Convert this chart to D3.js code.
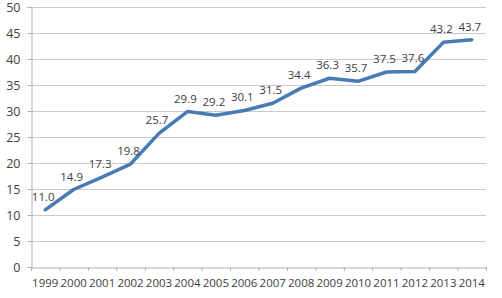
<!DOCTYPE html>
<html><head><meta charset="utf-8">
<script src="https://d3js.org/d3.v7.min.js"></script>
<style>body{margin:0;background:#fff}svg{display:block}</style>
</head><body>
<script>
const years = ["1999","2000","2001","2002","2003","2004","2005","2006","2007","2008","2009","2010","2011","2012","2013","2014"];
const values = [11.0,14.9,17.3,19.8,25.7,29.9,29.2,30.1,31.5,34.4,36.3,35.7,37.5,37.6,43.2,43.7];
const yTicks = [0,5,10,15,20,25,30,35,40,45,50];

(function(){
const W=502,H=298, mLeft=31, mRight=486, mTop=7, mBottom=267;
const svg=d3.select("body").append("svg").attr("width",W).attr("height",H);
const x=d3.scaleBand().domain(years).range([mLeft,mRight]);
const y=d3.scaleLinear().domain([0,50]).range([mBottom,mTop]);
const font="'Open Sans', sans-serif";

// gridlines
svg.append("g").selectAll("line").data(yTicks.filter(d=>d>0)).join("line")
  .attr("x1",mLeft).attr("x2",mRight).attr("y1",d=>y(d)+0.5).attr("y2",d=>y(d)+0.5)
  .attr("stroke","#c3ccd4").attr("stroke-width",1.2);

// y axis
const ya=svg.append("g").attr("transform",`translate(${mLeft+0.5},0)`)
  .call(d3.axisLeft(y).tickValues(yTicks).tickSize(4).tickPadding(7));
ya.select(".domain").attr("stroke","#a9b1b9");
ya.selectAll(".tick line").attr("stroke","#a9b1b9");
ya.selectAll("text").attr("font-family",font).attr("font-size","12.5px").attr("fill","#404040");

// x axis
const xa=svg.append("g").attr("transform",`translate(0,${mBottom+0.5})`)
  .call(d3.axisBottom(x).tickSize(0).tickPadding(11));
xa.select(".domain").attr("stroke","#a9b1b9");
xa.selectAll("text").attr("font-family",font).attr("font-size","11.5px").attr("fill","#404040");
// tick marks between categories
const bounds=years.map(d=>x(d)).concat([mRight]);
svg.append("g").selectAll("line").data(bounds).join("line")
  .attr("x1",d=>d+0.5).attr("x2",d=>d+0.5).attr("y1",mBottom).attr("y2",mBottom+4)
  .attr("stroke","#a9b1b9");

// line
const line=d3.line().x((d,i)=>x(years[i])+x.bandwidth()/2).y(d=>y(d));
svg.append("path").datum(values).attr("d",line).attr("fill","none")
  .attr("stroke","#4a7ab4").attr("stroke-width",3.5).attr("stroke-linejoin","round").attr("stroke-linecap","round");

// labels
svg.append("g").selectAll("text").data(values).join("text")
  .attr("x",(d,i)=>x(years[i])+x.bandwidth()/2-2)
  .attr("y",d=>y(d)-9)
  .attr("text-anchor","middle")
  .attr("font-family",font).attr("font-size","11.5px").attr("fill","#404040")
  .text(d=>d.toFixed(1));
})();
</script>
</body></html>
